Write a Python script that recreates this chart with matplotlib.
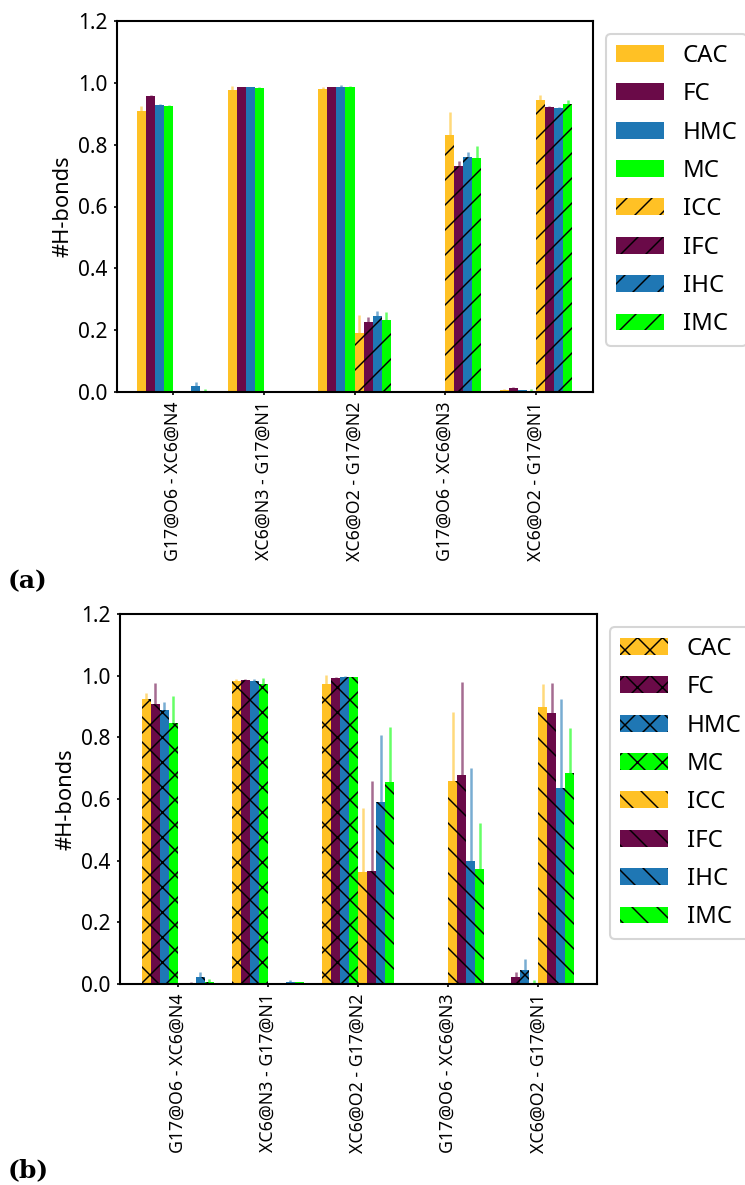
import numpy as np
import matplotlib.pyplot as plt
from matplotlib.colors import to_rgba

plt.rcParams['font.family'] = ['Noto Sans', 'DejaVu Sans']
plt.rcParams['hatch.linewidth'] = 0.7

pairs = ['G17@O6 - XC6@N4', 'XC6@N3 - G17@N1', 'XC6@O2 - G17@N2',
         'G17@O6 - XC6@N3', 'XC6@O2 - G17@N1']
names = ['CAC', 'FC', 'HMC', 'MC', 'ICC', 'IFC', 'IHC', 'IMC']
colors = ['#ffc125', '#6a0a48', '#1f77b4', '#00ff00',
          '#ffc125', '#6a0a48', '#1f77b4', '#00ff00']

# panel (a): mean values per series
a_cac = [0.908, 0.978, 0.980, 0.0, 0.005]
a_fc = [0.957, 0.986, 0.985, 0.0, 0.012]
a_hmc = [0.928, 0.985, 0.988, 0.0, 0.005]
a_mc = [0.925, 0.984, 0.987, 0.0, 0.001]
a_icc = [0.0, 0.0, 0.190, 0.832, 0.946]
a_ifc = [0.0, 0.0, 0.228, 0.732, 0.921]
a_ihc = [0.020, 0.0, 0.247, 0.759, 0.917]
a_imc = [0.002, 0.0, 0.234, 0.756, 0.930]
# panel (a): upper error
a_cac_err = [0.018, 0.013, 0.007, 0.0, 0.005]
a_fc_err = [0.003, 0.002, 0.002, 0.0, 0.003]
a_hmc_err = [0.002, 0.003, 0.004, 0.0, 0.001]
a_mc_err = [0.002, 0.001, 0.002, 0.0, 0.008]
a_icc_err = [0.0, 0.0, 0.060, 0.074, 0.016]
a_ifc_err = [0.0, 0.0, 0.016, 0.016, 0.005]
a_ihc_err = [0.013, 0.0, 0.016, 0.017, 0.005]
a_imc_err = [0.008, 0.0, 0.026, 0.041, 0.013]

# panel (b): mean values per series
b_cac = [0.924, 0.984, 0.972, 0.0, 0.001]
b_fc = [0.908, 0.987, 0.993, 0.0, 0.024]
b_hmc = [0.890, 0.983, 0.996, 0.0, 0.047]
b_mc = [0.847, 0.974, 0.995, 0.0, 0.004]
b_icc = [0.0, 0.001, 0.363, 0.658, 0.899]
b_ifc = [0.003, 0.0, 0.366, 0.679, 0.879]
b_ihc = [0.023, 0.007, 0.591, 0.400, 0.637]
b_imc = [0.007, 0.005, 0.656, 0.373, 0.685]
# panel (b): upper error
b_cac_err = [0.021, 0.004, 0.031, 0.0, 0.001]
b_fc_err = [0.067, 0.001, 0.002, 0.0, 0.016]
b_hmc_err = [0.025, 0.006, 0.004, 0.0, 0.034]
b_mc_err = [0.088, 0.018, 0.002, 0.0, 0.008]
b_icc_err = [0.0, 0.0, 0.207, 0.224, 0.075]
b_ifc_err = [0.005, 0.0, 0.291, 0.302, 0.098]
b_ihc_err = [0.017, 0.006, 0.215, 0.302, 0.287]
b_imc_err = [0.010, 0.003, 0.176, 0.149, 0.146]

a_means = [a_cac, a_fc, a_hmc, a_mc, a_icc, a_ifc, a_ihc, a_imc]
a_errs = [a_cac_err, a_fc_err, a_hmc_err, a_mc_err,
          a_icc_err, a_ifc_err, a_ihc_err, a_imc_err]
b_means = [b_cac, b_fc, b_hmc, b_mc, b_icc, b_ifc, b_ihc, b_imc]
b_errs = [b_cac_err, b_fc_err, b_hmc_err, b_mc_err,
          b_icc_err, b_ifc_err, b_ihc_err, b_imc_err]

W, H = 745, 1185
fig = plt.figure(figsize=(W / 150, H / 150), dpi=150)


def panel(rect, means, errs, hatches, xlim):
    ax = fig.add_axes(rect)
    x = np.arange(len(pairs))
    width = 0.1
    for i in range(8):
        off = (i - 3.5) * width
        m = np.array(means[i])
        e = np.array(errs[i])
        ax.bar(x + off, m, width, color=colors[i], hatch=hatches[i],
               linewidth=0, label=names[i],
               yerr=[np.zeros_like(e), e],
               error_kw=dict(ecolor=to_rgba(colors[i], 0.6), elinewidth=1.2,
                             capsize=0))
    ax.set_xlim(xlim)
    ax.set_ylim(0, 1.2)
    ax.set_yticks(np.arange(0, 1.21, 0.2))
    ax.set_xticks(x)
    ax.set_xticklabels(pairs, rotation=90, fontsize=8.5)
    ax.tick_params(axis='y', labelsize=10)
    ax.tick_params(length=1.6, width=0.8, pad=2.9)
    for s in ax.spines.values():
        s.set_linewidth(1.0)
    ax.set_ylabel('#H-bonds', fontsize=10.5, labelpad=2)
    ax.legend(loc='upper left', bbox_to_anchor=(1.0, 1.0), fontsize=11.5,
              labelspacing=0.6, handletextpad=0.8, borderaxespad=0.55)
    return ax


panel([117 / W, 1 - 392 / H, 476 / W, 371 / H], a_means, a_errs,
      [None] * 4 + ['//'] * 4, (-0.62, 4.63))
panel([120 / W, 1 - 984 / H, 477 / W, 370 / H], b_means, b_errs,
      ['xx'] * 4 + ['\\\\'] * 4, (-0.64, 4.65))

fig.text(8 / W, 1 - 581 / H, '(a)', fontsize=12, fontweight='bold',
         family='DejaVu Serif', va='center', ha='left')
fig.text(8 / W, 1 - 1170 / H, '(b)', fontsize=12, fontweight='bold',
         family='DejaVu Serif', va='center', ha='left')

fig.savefig('out.png', dpi=150)
